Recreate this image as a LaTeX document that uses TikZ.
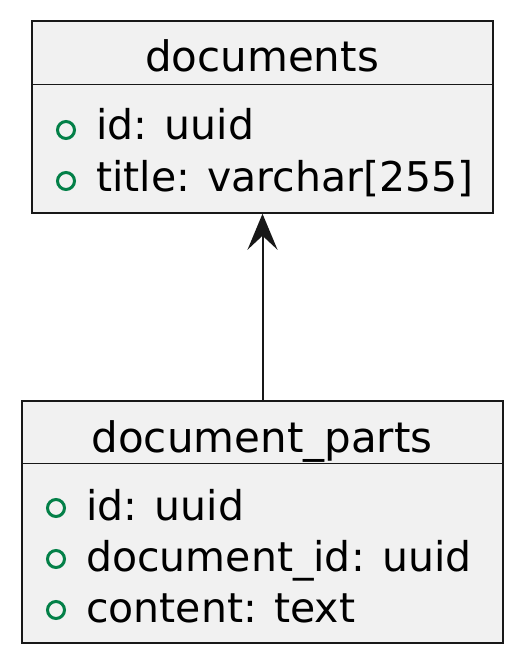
\documentclass[tikz,border=0pt]{standalone}
\usepackage{fontspec}
\setmainfont{DejaVu Sans}
\usetikzlibrary{calc, arrows.meta}

\definecolor{entfill}{HTML}{F1F1F1}
\definecolor{entline}{HTML}{181818}
\definecolor{keygreen}{HTML}{038048}

\tikzset{
  entity/.style={draw=entline, fill=entfill, line width=1.5pt, inner sep=0pt},
  head/.style={font=\fontsize{42}{50}\selectfont, anchor=base, inner sep=0pt},
  field/.style={font=\fontsize{41}{49}\selectfont, anchor=base west, inner sep=0pt},
  keymark/.style={draw=keygreen, line width=3pt, circle, minimum size=17pt, inner sep=0pt},
}

\begin{document}
\begin{tikzpicture}[x=1pt, y=-1pt]
  \useasboundingbox (0,0) rectangle (521,663);
  % documents
  \node[entity, minimum width=461pt, minimum height=192pt] (docs) at (262.5,117) {};
  \draw[entline, line width=1.2pt] ($(docs.north west)+(0,64)$) -- ($(docs.north east)+(0,64)$);
  \node[head] (docsname) at (262,72) {documents};
  \node[keymark] (k1) at (66,130) {};
  \node[field] (f1) at (96,140) {id: uuid};
  \node[keymark] (k2) at (66,181) {};
  \node[field] (f2) at (96,191) {title: varchar[255]};
  % document_parts
  \node[entity, minimum width=481pt, minimum height=242pt] (parts) at (262.5,522) {};
  \draw[entline, line width=1.2pt] ($(parts.north west)+(0,63)$) -- ($(parts.north east)+(0,63)$);
  \node[head] (partsname) at (262,452) {document\_parts};
  \node[keymark] (k3) at (56,508) {};
  \node[field] (f3) at (86,520) {id: uuid};
  \node[keymark] (k4) at (56,559) {};
  \node[field] (f4) at (86,571) {document\_id: uuid};
  \node[keymark] (k5) at (56,610) {};
  \node[field] (f5) at (86,622) {content: text};
  % relation
  \draw[entline, line width=2pt, -{Stealth[length=36pt, width=30pt, inset=14pt]}] (parts.north) -- (docs.south);
\end{tikzpicture}
\end{document}
